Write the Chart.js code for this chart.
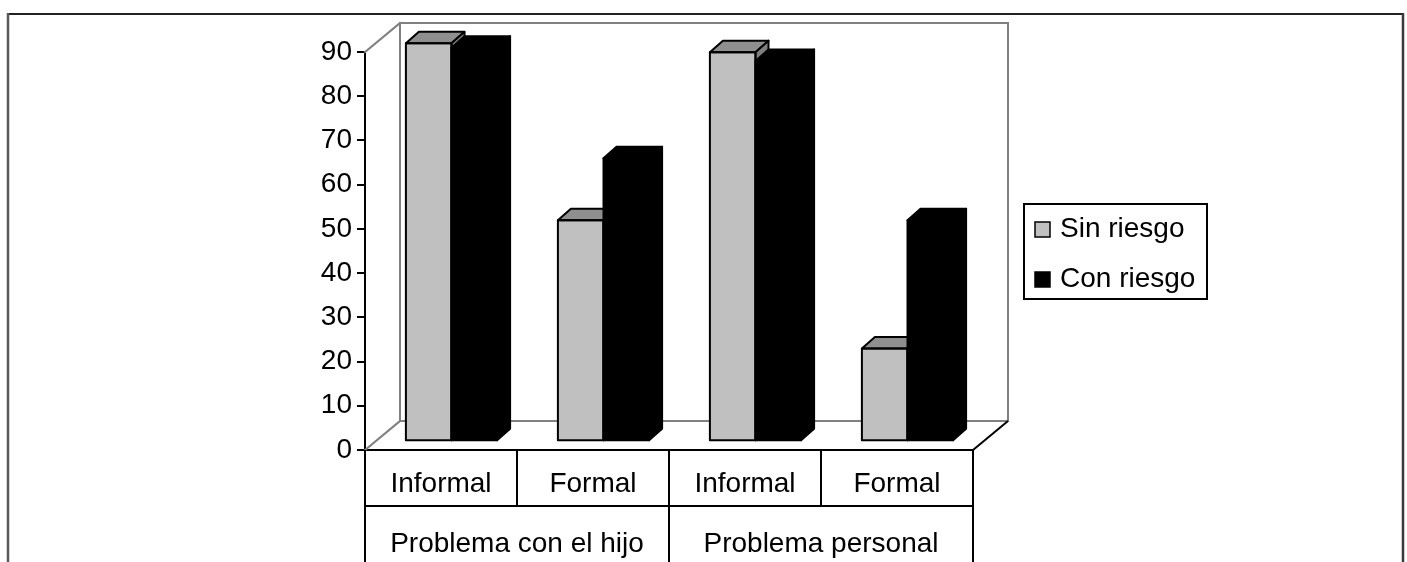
<!DOCTYPE html>
<html>
<head>
<meta charset="utf-8">
<title>Problema con el hijo / Problema personal</title>
<script src="https://cdn.jsdelivr.net/npm/chart.js@4.4.1/dist/chart.umd.min.js"></script>
<style>
  html, body { margin: 0; padding: 0; background: #ffffff; overflow: hidden; }
  #wrap { position: relative; width: 1407px; height: 562px; }
</style>
</head>
<body>
<div id="wrap"><canvas id="chart" width="1407" height="562"></canvas></div>
<script>
// Categories (first label row) and their groups (second label row)
const categories = ['Informal', 'Formal', 'Informal', 'Formal'];
const groups = ['Problema con el hijo', 'Problema personal'];
const groupSizes = [2, 2];

// Series
const seriesNames = ['Sin riesgo', 'Con riesgo'];
const sinRiesgo = [90, 50, 88, 21];
const conRiesgo = [89, 64, 86, 50];

// Value axis
const yMin = 0;
const yMax = 90;
const yStep = 10;

const FONT = '"Liberation Sans", Arial, Helvetica, sans-serif';
const FONT_SIZE = 28;

// Pseudo-3D geometry
const WALL_DX = 35, WALL_DY = 29;     // depth of the floor / back wall
const SHIFT_X = 10.5, SHIFT_Y = 8.7;  // bars sit part way into the depth
const BAR_DX = 13, BAR_DY = 11.5;     // depth of each column

const faceStyles = [
  { front: '#c0c0c0', top: '#8f8f8f', side: '#7f7f7f' },
  { front: '#000000', top: '#000000', side: '#000000' }
];

function drawFaces(ctx, el, style) {
  const p = el.getProps(['x', 'y', 'base', 'width'], true);
  const l = p.x - p.width / 2, r = p.x + p.width / 2;
  const t = Math.min(p.y, p.base), b = Math.max(p.y, p.base);
  ctx.lineWidth = 2;
  ctx.strokeStyle = '#000000';
  ctx.lineJoin = 'round';
  // top face
  ctx.beginPath();
  ctx.moveTo(l, t);
  ctx.lineTo(r, t);
  ctx.lineTo(r + BAR_DX, t - BAR_DY);
  ctx.lineTo(l + BAR_DX, t - BAR_DY);
  ctx.closePath();
  ctx.fillStyle = style.top;
  ctx.fill();
  ctx.stroke();
  // right side face
  ctx.beginPath();
  ctx.moveTo(r, t);
  ctx.lineTo(r + BAR_DX, t - BAR_DY);
  ctx.lineTo(r + BAR_DX, b - BAR_DY);
  ctx.lineTo(r, b);
  ctx.closePath();
  ctx.fillStyle = style.side;
  ctx.fill();
  ctx.stroke();
  // front outline
  ctx.strokeRect(l, t, r - l, b - t);
}

function line(ctx, x1, y1, x2, y2, color, w) {
  ctx.beginPath();
  ctx.moveTo(x1, y1);
  ctx.lineTo(x2, y2);
  ctx.strokeStyle = color;
  ctx.lineWidth = w;
  ctx.stroke();
}

const box3d = {
  id: 'box3d',
  beforeDatasetsDraw(chart) {
    const ctx = chart.ctx;
    const a = chart.chartArea;
    const g = '#808080';
    ctx.save();
    ctx.lineCap = 'square';
    // back wall
    line(ctx, a.left + WALL_DX, a.top - WALL_DY, a.right + WALL_DX, a.top - WALL_DY, g, 2);
    line(ctx, a.left + WALL_DX, a.top - WALL_DY, a.left + WALL_DX, a.bottom - WALL_DY, g, 2);
    line(ctx, a.right + WALL_DX, a.top - WALL_DY, a.right + WALL_DX, a.bottom - WALL_DY, g, 2);
    line(ctx, a.left + WALL_DX, a.bottom - WALL_DY, a.right + WALL_DX, a.bottom - WALL_DY, g, 2);
    // side wall edges
    line(ctx, a.left, a.top, a.left + WALL_DX, a.top - WALL_DY, g, 2);
    line(ctx, a.left, a.bottom, a.left + WALL_DX, a.bottom - WALL_DY, g, 2);
    // floor right edge
    ctx.lineCap = 'butt';
    line(ctx, a.right, a.bottom, a.right + WALL_DX, a.bottom - WALL_DY, '#000000', 2);
    ctx.restore();

    // columns, painted left to right so that nearer faces cover farther ones
    ctx.save();
    ctx.translate(SHIFT_X, -SHIFT_Y);
    const metas = chart.data.datasets.map((d, i) => chart.getDatasetMeta(i));
    for (let i = 0; i < chart.data.labels.length; i++) {
      metas.forEach((meta, d) => {
        const el = meta.data[i];
        el.draw(ctx, a);
        drawFaces(ctx, el, faceStyles[d]);
      });
    }
    ctx.restore();
    return false;
  },
  afterDraw(chart) {
    const ctx = chart.ctx;
    const a = chart.chartArea;
    const xs = chart.scales.x;
    const catW = (a.right - a.left) / categories.length;
    const row1 = a.bottom + 56;
    const bottom = chart.height + 5;
    ctx.save();
    ctx.lineCap = 'butt';
    // category table
    line(ctx, a.left - 1, row1, a.right + 1, row1, '#000000', 2);
    for (let i = 0; i <= categories.length; i++) {
      const x = (i < categories.length ? xs.getPixelForValue(i) : xs.getPixelForValue(i - 1) + catW) - catW / 2;
      line(ctx, x, a.bottom, x, row1, '#000000', 2);
    }
    ctx.font = FONT_SIZE + 'px ' + FONT;
    ctx.fillStyle = '#000000';
    ctx.textAlign = 'center';
    ctx.textBaseline = 'alphabetic';
    categories.forEach((c, i) => {
      ctx.fillText(c, xs.getPixelForValue(i), a.bottom + 42);
    });
    let start = 0;
    const edges = [];
    groups.forEach((gname, gi) => {
      const left = xs.getPixelForValue(start) - catW / 2;
      const right = xs.getPixelForValue(start + groupSizes[gi] - 1) + catW / 2;
      edges.push(left, right);
      ctx.fillText(gname, (left + right) / 2, row1 + 46);
      start += groupSizes[gi];
    });
    [...new Set(edges.map(e => Math.round(e)))].forEach(x => line(ctx, x, row1, x, bottom, '#000000', 2));

    // legend
    const lx = 1024, ly = 204, lw = 183, lh = 95;
    ctx.lineWidth = 2;
    ctx.strokeStyle = '#000000';
    ctx.strokeRect(lx, ly, lw, lh);
    ctx.textAlign = 'left';
    seriesNames.forEach((name, i) => {
      const cy = ly + 25 + i * 50;
      ctx.fillStyle = faceStyles[i].front;
      ctx.fillRect(lx + 11, cy - 7, 15, 15);
      ctx.lineWidth = 1.5;
      ctx.strokeRect(lx + 11, cy - 7, 15, 15);
      ctx.fillStyle = '#000000';
      ctx.fillText(name, lx + 36, cy + 8);
    });

    // outer frame
    ctx.lineWidth = 2;
    line(ctx, 7, 14, 1404, 14, '#222222', 2);
    line(ctx, 8, 13, 8, chart.height + 5, '#5a5a5a', 2.5);
    line(ctx, 1403, 13, 1403, chart.height + 5, '#3a3a3a', 2.5);
    ctx.restore();
  }
};

new Chart(document.getElementById('chart'), {
  type: 'bar',
  data: {
    labels: categories,
    datasets: [
      {
        label: seriesNames[0],
        data: sinRiesgo,
        backgroundColor: faceStyles[0].front,
        borderColor: '#000000',
        borderWidth: 0,
        borderSkipped: false
      },
      {
        label: seriesNames[1],
        data: conRiesgo,
        backgroundColor: faceStyles[1].front,
        borderColor: '#000000',
        borderWidth: 0,
        borderSkipped: false
      }
    ]
  },
  options: {
    responsive: false,
    animation: false,
    events: [],
    categoryPercentage: 0.6,
    barPercentage: 1.0,
    layout: { padding: { left: 300, right: 434, top: 52, bottom: 0 } },
    plugins: {
      legend: { display: false },
      tooltip: { enabled: false },
      title: { display: false }
    },
    scales: {
      x: {
        offset: true,
        grid: { display: false },
        ticks: { display: false },
        border: { display: true, color: '#000000', width: 2 },
        afterFit(scale) { scale.height = 112; }
      },
      y: {
        min: yMin,
        max: yMax,
        ticks: {
          stepSize: yStep,
          color: '#000000',
          padding: 5,
          font: { family: FONT, size: FONT_SIZE }
        },
        grid: {
          display: true,
          drawOnChartArea: false,
          drawTicks: true,
          tickLength: 8,
          color: '#000000',
          lineWidth: 2
        },
        border: { display: true, color: '#000000', width: 2 },
        afterFit(scale) { scale.width = 65; }
      }
    }
  },
  plugins: [box3d]
});
</script>
</body>
</html>
